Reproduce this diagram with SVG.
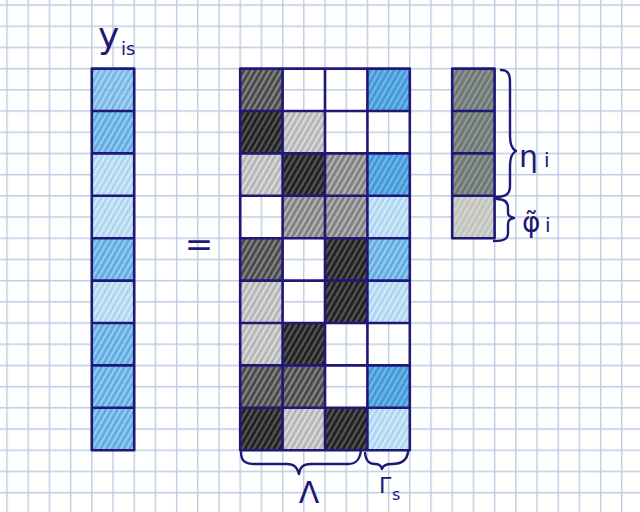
<svg xmlns="http://www.w3.org/2000/svg" width="640" height="512" viewBox="0 0 640 512">
<defs>
<pattern id="grid" x="6.3" y="4.3" width="21.2" height="21.2" patternUnits="userSpaceOnUse">
<path d="M0.7 0V21.2M0 0.7H21.2" stroke="#bccbe2" stroke-width="1.4" fill="none"/>
</pattern>
<pattern id="pD" width="5" height="5" patternUnits="userSpaceOnUse" patternTransform="rotate(30)"><rect width="5" height="5" fill="#555"/><line x1="1.5" y1="0" x2="1.5" y2="5" stroke="#1c1c1c" stroke-width="2.6"/></pattern>
<pattern id="pM" width="5" height="5" patternUnits="userSpaceOnUse" patternTransform="rotate(30)"><rect width="5" height="5" fill="#858585"/><line x1="1.5" y1="0" x2="1.5" y2="5" stroke="#434343" stroke-width="2.6"/></pattern>
<pattern id="pG" width="5" height="5" patternUnits="userSpaceOnUse" patternTransform="rotate(30)"><rect width="5" height="5" fill="#b4b4b4"/><line x1="1.5" y1="0" x2="1.5" y2="5" stroke="#7c7c7c" stroke-width="2.6"/></pattern>
<pattern id="pL" width="5" height="5" patternUnits="userSpaceOnUse" patternTransform="rotate(30)"><rect width="5" height="5" fill="#dadada"/><line x1="1.5" y1="0" x2="1.5" y2="5" stroke="#b2b2b2" stroke-width="2.6"/></pattern>
<pattern id="pB" width="5" height="5" patternUnits="userSpaceOnUse" patternTransform="rotate(30)"><rect width="5" height="5" fill="#72b7e7"/><line x1="1.5" y1="0" x2="1.5" y2="5" stroke="#3d96d8" stroke-width="2.6"/></pattern>
<pattern id="pb" width="5" height="5" patternUnits="userSpaceOnUse" patternTransform="rotate(30)"><rect width="5" height="5" fill="#99cbee"/><line x1="1.5" y1="0" x2="1.5" y2="5" stroke="#5aa9e1" stroke-width="2.6"/></pattern>
<pattern id="pl" width="5" height="5" patternUnits="userSpaceOnUse" patternTransform="rotate(30)"><rect width="5" height="5" fill="#d3eaf8"/><line x1="1.5" y1="0" x2="1.5" y2="5" stroke="#a9d4f1" stroke-width="2.6"/></pattern>
<pattern id="pS" width="5" height="5" patternUnits="userSpaceOnUse" patternTransform="rotate(30)"><rect width="5" height="5" fill="#8f9894"/><line x1="1.5" y1="0" x2="1.5" y2="5" stroke="#6a736f" stroke-width="2.6"/></pattern>
<pattern id="pSL" width="5" height="5" patternUnits="userSpaceOnUse" patternTransform="rotate(30)"><rect width="5" height="5" fill="#d4d4d0"/><line x1="1.5" y1="0" x2="1.5" y2="5" stroke="#c2c2bd" stroke-width="2.6"/></pattern>
</defs>
<style>
.D{fill:url(#pD)} .M{fill:url(#pM)} .G{fill:url(#pG)} .L{fill:url(#pL)}
.B{fill:url(#pB)} .b{fill:url(#pb)} .l{fill:url(#pl)} .S{fill:url(#pS)} .SL{fill:url(#pSL)}
.frame{fill:none;stroke:#1f1879;stroke-width:2.6;stroke-linejoin:round}
.brace{fill:none;stroke:#1f1879;stroke-width:2.4;stroke-linecap:round;stroke-linejoin:round}
.lbl{fill:#1f1879;font-family:"DejaVu Sans","Liberation Sans",sans-serif}
</style>
<rect width="640" height="512" fill="#ffffff"/>
<rect width="640" height="512" fill="url(#grid)"/>

<g id="vector-y">
<rect class="b" x="92" y="69" width="42" height="42" opacity="0.85"/>
<rect class="b" x="92" y="111" width="42" height="42"/>
<rect class="l" x="92" y="153" width="42" height="43"/>
<rect class="l" x="92" y="196" width="42" height="42"/>
<rect class="b" x="92" y="238" width="42" height="43"/>
<rect class="l" x="92" y="281" width="42" height="42"/>
<rect class="b" x="92" y="323" width="42" height="42"/>
<rect class="b" x="92" y="365" width="42" height="43"/>
<rect class="b" x="92" y="408" width="42" height="42"/>
<path class="frame" d="M91.8 68.6H134.2V450.2H91.8Z M91.8 111H134.2 M91.8 153.4H134.2 M91.8 195.8H134.2 M91.8 238.2H134.2 M91.8 280.6H134.2 M91.8 323H134.2 M91.8 365.4H134.2 M91.8 407.8H134.2"/>
<text class="lbl" x="98" y="48" font-size="36">y</text>
<text class="lbl" x="121" y="55" font-size="18">is</text>
</g>

<g id="equals">
<text class="lbl" x="199" y="256" font-size="34" text-anchor="middle">=</text>
</g>

<g id="matrix">
<rect class="M" x="241" y="69" width="41" height="42"/>
<rect class="B" x="368" y="69" width="41" height="42"/>
<rect class="D" x="241" y="111" width="41" height="42"/>
<rect class="L" x="283" y="111" width="42" height="42"/>
<rect class="L" x="241" y="153" width="41" height="43"/>
<rect class="D" x="283" y="153" width="42" height="43"/>
<rect class="G" x="325" y="153" width="42" height="43"/>
<rect class="B" x="368" y="153" width="41" height="43"/>
<rect class="G" x="283" y="196" width="42" height="42"/>
<rect class="G" x="325" y="196" width="42" height="42"/>
<rect class="l" x="368" y="196" width="41" height="42"/>
<rect class="M" x="241" y="238" width="41" height="43"/>
<rect class="D" x="325" y="238" width="42" height="43"/>
<rect class="b" x="368" y="238" width="41" height="43"/>
<rect class="L" x="241" y="281" width="41" height="42"/>
<rect class="D" x="325" y="281" width="42" height="42"/>
<rect class="l" x="368" y="281" width="41" height="42"/>
<rect class="L" x="241" y="323" width="41" height="42"/>
<rect class="D" x="283" y="323" width="42" height="42"/>
<rect class="M" x="241" y="365" width="41" height="43"/>
<rect class="M" x="283" y="365" width="42" height="43"/>
<rect class="B" x="368" y="365" width="41" height="43"/>
<rect class="D" x="241" y="408" width="41" height="42"/>
<rect class="L" x="283" y="408" width="42" height="42"/>
<rect class="D" x="325" y="408" width="42" height="42"/>
<rect class="l" x="368" y="408" width="41" height="42"/>
<path class="frame" d="M240.2 68.6H409.8V450.2H240.2Z M282.6 68.6V450.2 M325 68.6V450.2 M367.4 68.6V450.2 M240.2 111H409.8 M240.2 153.4H409.8 M240.2 195.8H409.8 M240.2 238.2H409.8 M240.2 280.6H409.8 M240.2 323H409.8 M240.2 365.4H409.8 M240.2 407.8H409.8"/>
</g>

<g id="vector-small">
<rect class="S" x="453" y="69" width="41" height="42"/>
<rect class="S" x="453" y="111" width="41" height="42"/>
<rect class="S" x="453" y="153" width="41" height="43"/>
<rect class="SL" x="453" y="196" width="41" height="42"/>
<path class="frame" d="M452.2 68.6H494.6V238.2H452.2Z M452.2 111H494.6 M452.2 153.4H494.6 M452.2 195.8H494.6"/>
</g>

<g id="braces">
<g id="brace-eta">
<path class="brace" d="M501 70C508 70 510 74 510 82L510 136C510 145 512 149 516 151C512 153 510 157 510 166L510 186C510 194 506 197 495 197"/>
<text class="lbl" x="519" y="167" font-size="30">η</text>
<text class="lbl" x="544" y="167" font-size="20">i</text>
</g>
<g id="brace-phi">
<path class="brace" d="M497 199C505 199 508 202 508 208L508 213C508 216 510 217 514 218C510 219 508 220 508 224L508 233C508 239 504 241 494 241"/>
<text class="lbl" x="522" y="232" font-size="28">φ̃</text>
<text class="lbl" x="545" y="232" font-size="20">i</text>
</g>
<g id="brace-lambda">
<path class="brace" d="M241 452C241 461 245 464 255 464L287 464C294 464 297 467 299 474C300 467 303 464 311 464L348 464C356 464 360 460 361 450"/>
<text class="lbl" x="309" y="503" font-size="30" text-anchor="middle">Λ</text>
</g>
<g id="brace-gamma">
<path class="brace" d="M365 453C366 461 369 464 375 464C379 464 381 465 382 469C383 465 386 464 392 464C402 464 407 460 408 452"/>
<text class="lbl" x="379" y="493" font-size="22">Γ</text>
<text class="lbl" x="392" y="500" font-size="16">s</text>
</g>
</g>
</svg>
